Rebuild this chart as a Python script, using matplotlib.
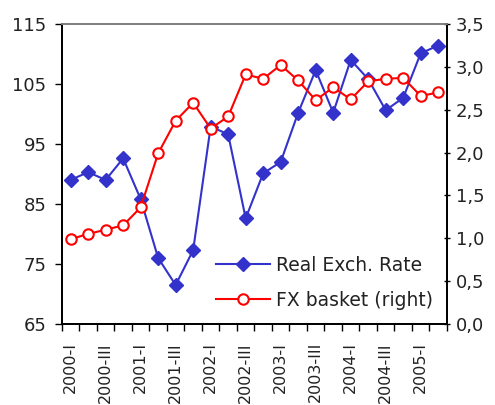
import matplotlib
matplotlib.use("Agg")
import matplotlib.pyplot as plt
import numpy as np

labels = ["2000-I", "2000-III", "2001-I", "2001-III", "2002-I", "2002-III",
          "2003-I", "2003-III", "2004-I", "2004-III", "2005-I"]
real_exch = [89.0, 90.3, 89.0, 92.6, 85.8, 76.0, 71.5, 77.3, 97.9, 96.6, 82.6,
             90.1, 92.0, 100.2, 107.3, 100.2, 109.0, 105.8, 100.6, 102.7, 110.1, 111.4]
fx_basket = [0.99, 1.05, 1.10, 1.15, 1.36, 1.99, 2.37, 2.58, 2.28, 2.42, 2.91,
             2.86, 3.02, 2.84, 2.61, 2.76, 2.62, 2.83, 2.86, 2.87, 2.66, 2.70]

plt.rcParams['font.family'] = ['DejaVu Sans']
blue = '#3333cc'
red = '#ff0000'
txt = '#222222'

fig = plt.figure(figsize=(4.95, 4.05), dpi=100)
ax = fig.add_axes([0.125, 0.2, 0.778, 0.741])
ax2 = ax.twinx()

x = np.arange(len(real_exch))
l1, = ax.plot(x, real_exch, color=blue, lw=1.5, marker='D', ms=7,
              label='Real Exch. Rate', zorder=3)
l2, = ax2.plot(x, fx_basket, color=red, lw=1.5, marker='o', ms=7.5,
               mfc='white', mec=red, mew=1.5, label='FX basket (right)')

ax.set_xlim(-0.5, len(x) - 0.5)
ax.set_ylim(65, 115)
ax.set_yticks(range(65, 116, 10))
ax2.set_ylim(0, 3.5)
ax2.set_yticks(np.arange(0, 3.51, 0.5))
ax2.set_yticklabels([f"{v:.1f}".replace('.', ',') for v in np.arange(0, 3.51, 0.5)])

# labels on every other quarter, tick marks between quarters
ax.set_xticks(np.arange(0, len(x), 2))
ax.set_xticklabels(labels, rotation=90, color=txt)
ax.set_xticks(np.arange(-0.5, len(x), 1), minor=True)
ax.tick_params(axis='x', which='major', length=0, pad=13, labelsize=11.5)
ax.tick_params(axis='x', which='minor', length=5, width=1)
ax.tick_params(axis='y', length=5, width=1, labelsize=13, pad=6, labelcolor=txt)
ax2.tick_params(axis='y', length=5, width=1, labelsize=13, direction='inout',
                pad=4, labelcolor=txt)

for a in (ax, ax2):
    a.spines['top'].set_color('#808080')
    a.spines['top'].set_linewidth(1.3)
    for s in ('left', 'right', 'bottom'):
        a.spines[s].set_linewidth(1.3)

ax2.legend(handles=[l1, l2], loc='lower right', bbox_to_anchor=(1.0, 0.0),
           frameon=False, fontsize=13.5, handlelength=2.9, handletextpad=0.3,
           labelspacing=0.85, borderaxespad=0.35, labelcolor=txt)

fig.savefig('out.png', dpi=100)
